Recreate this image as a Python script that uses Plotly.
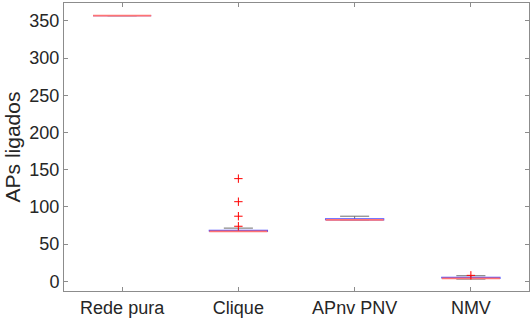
import plotly.graph_objects as go

categories = ["Rede pura", "Clique", "APnv PNV", "NMV"]
lower_whisker = [357, 67, 82.5, 3]
q1 = [357, 67, 82.5, 4]
median = [357, 67, 82.5, 4]
q3 = [357, 68.5, 84, 5.5]
upper_whisker = [357, 71.5, 87.5, 7.5]
outliers = [[], [74, 87.5, 107, 138], [], [8]]

y_ticks = [0, 50, 100, 150, 200, 250, 300, 350]

BOX_HALF = 0.25
CAP_HALF = 0.125
TEXT = "#262626"
AXIS = "#8c8c8c"
WHISKER = "#6e6e6e"
BOX = "#4b4bff"
MED = "#ff7373"

fig = go.Figure()

for i, name in enumerate(categories):
    x = i + 1
    fig.add_trace(go.Scatter(
        x=[x, x, None, x, x], y=[q3[i], upper_whisker[i], None, lower_whisker[i], q1[i]],
        mode="lines", line=dict(color=WHISKER, width=1, dash="dash"),
        hoverinfo="skip", showlegend=False))
    fig.add_trace(go.Scatter(
        x=[x - CAP_HALF, x + CAP_HALF, None, x - CAP_HALF, x + CAP_HALF],
        y=[upper_whisker[i], upper_whisker[i], None, lower_whisker[i], lower_whisker[i]],
        mode="lines", line=dict(color=WHISKER, width=1),
        hoverinfo="skip", showlegend=False))

for i, name in enumerate(categories):
    x = i + 1
    fig.add_trace(go.Scatter(
        x=[x - BOX_HALF, x + BOX_HALF, x + BOX_HALF, x - BOX_HALF, x - BOX_HALF],
        y=[q1[i], q1[i], q3[i], q3[i], q1[i]],
        mode="lines", line=dict(color=BOX, width=1.2),
        hoverinfo="skip", showlegend=False))

for i, name in enumerate(categories):
    x = i + 1
    fig.add_trace(go.Scatter(
        x=[x - BOX_HALF, x + BOX_HALF], y=[median[i], median[i]],
        mode="lines", line=dict(color=MED, width=1.8),
        hoverinfo="skip", showlegend=False))
    if outliers[i]:
        fig.add_trace(go.Scatter(
            x=[x] * len(outliers[i]), y=outliers[i], mode="markers",
            marker=dict(symbol="cross-thin", size=6, line=dict(color="red", width=1)),
            hoverinfo="skip", showlegend=False))

fig.update_layout(
    width=530, height=324,
    margin=dict(l=64, r=1, t=3, b=33),
    paper_bgcolor="white", plot_bgcolor="white",
    font=dict(family="Liberation Sans, Arial, sans-serif", size=18, color=TEXT),
)
fig.update_xaxes(
    range=[0.5, 4.5], tickvals=[1, 2, 3, 4], ticktext=categories,
    showline=True, linecolor=AXIS, linewidth=1, mirror="ticks",
    ticks="inside", ticklen=4, tickcolor=AXIS, showgrid=False, zeroline=False,
    tickfont=dict(size=18, color=TEXT),
)
fig.update_yaxes(
    range=[-13, 374], tickvals=y_ticks,
    showline=True, linecolor=AXIS, linewidth=1, mirror="ticks",
    ticks="inside", ticklen=4, tickcolor=AXIS, showgrid=False, zeroline=False,
    tickfont=dict(size=18, color=TEXT),
    title=dict(text="APs ligados", font=dict(size=21, color=TEXT), standoff=3),
)

fig.write_html("out.html")
